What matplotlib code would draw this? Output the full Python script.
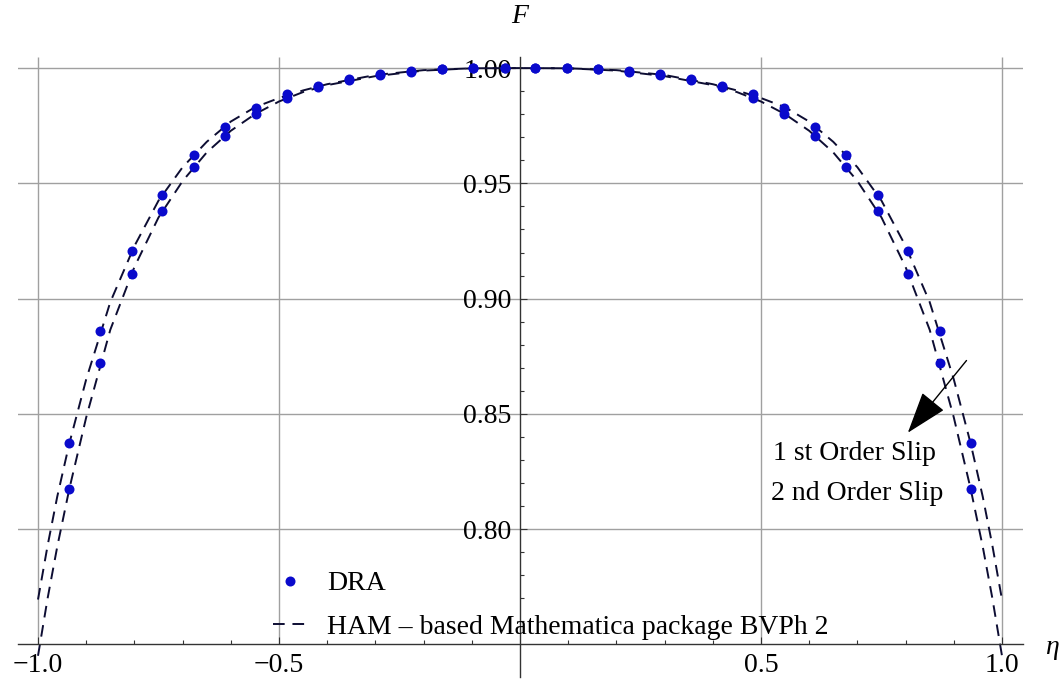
import numpy as np
import matplotlib.pyplot as plt
from matplotlib.lines import Line2D

plt.rcParams['font.family'] = ['Liberation Serif', 'DejaVu Serif']
plt.rcParams['mathtext.fontset'] = 'stix'

# DRA points (eta > 0 side, profile is symmetric)
eta_dra = [0.032, 0.097, 0.161, 0.226, 0.290, 0.355, 0.419, 0.484,
           0.548, 0.613, 0.677, 0.742, 0.806, 0.871, 0.935]
F_dra_slip1 = [1.0000, 0.9999, 0.9995, 0.9987, 0.9973, 0.9952, 0.9922, 0.9886,
               0.9826, 0.9744, 0.9622, 0.9450, 0.9206, 0.8858, 0.8372]
F_dra_slip2 = [1.0000, 0.9999, 0.9994, 0.9985, 0.9970, 0.9948, 0.9918, 0.9869,
               0.9802, 0.9706, 0.9573, 0.9381, 0.9107, 0.8722, 0.8175]

# HAM (BVPh 2) curves
eta_ham = [0.0, 0.1, 0.2, 0.3, 0.4, 0.45, 0.5, 0.55, 0.6, 0.65, 0.7,
           0.75, 0.8, 0.85, 0.9, 0.935, 0.96, 0.98, 1.0]
F_ham_slip1 = [1.0000, 0.9999, 0.9991, 0.9970, 0.9930, 0.9903, 0.9870, 0.9830,
               0.9768, 0.9680, 0.9570, 0.9425, 0.9228, 0.8985, 0.8650, 0.8372,
               0.8142, 0.7930, 0.7695]
F_ham_slip2 = [1.0000, 0.9999, 0.9989, 0.9965, 0.9926, 0.9896, 0.9855, 0.9800,
               0.9728, 0.9634, 0.9510, 0.9352, 0.9137, 0.8865, 0.8485, 0.8175,
               0.7925, 0.7701, 0.7451]

x_ticks = [-1.0, -0.5, 0.5, 1.0]
x_ticklabels = ['\u22121.0', '\u22120.5', '0.5', '1.0']
y_ticks = [0.80, 0.85, 0.90, 0.95, 1.00]
y_ticklabels = ['0.80', '0.85', '0.90', '0.95', '1.00']


def mirror(x, y):
    x = np.asarray(x)
    y = np.asarray(y)
    return np.concatenate([-x[::-1], x]), np.concatenate([y[::-1], y])


dot_color = '#0a0acc'
line_color = '#0d0d33'
dash = (0, (6, 4))

fig = plt.figure(figsize=(10.59, 6.86), dpi=100)
ax = fig.add_axes([18 / 1059, 9 / 686, 1005 / 1059, 620 / 686])
ax.set_xlim(-1.0415, 1.0436)
ax.set_ylim(0.7359, 1.0048)

# grid
for yv in y_ticks:
    ax.axhline(yv, color='#a0a0a0', lw=1, zorder=0)
ax.vlines(x_ticks, 0.75, ax.get_ylim()[1], color='#a0a0a0', lw=1, zorder=0)

# curves
for F in (F_ham_slip1, F_ham_slip2):
    xs, ys = mirror(eta_ham, F)
    ax.plot(xs, ys, color=line_color, lw=1.4, linestyle=dash, zorder=2)

# points
for F in (F_dra_slip1, F_dra_slip2):
    xs, ys = mirror(eta_dra, F)
    ax.plot(xs, ys, 'o', color=dot_color, ms=7.2, mew=0, zorder=3)

# axes through the origin, Mathematica style
for s in ('top', 'right'):
    ax.spines[s].set_visible(False)
ax.spines['left'].set_position(('data', 0))
ax.spines['bottom'].set_position(('data', 0.75))
for s in ('left', 'bottom'):
    ax.spines[s].set_color('#333333')
    ax.spines[s].set_linewidth(1)

ax.set_xticks(x_ticks)
ax.set_xticklabels(x_ticklabels)
ax.set_xticks([v / 10 for v in range(-9, 10) if v not in (-5, 0, 5)], minor=True)
ax.set_yticks(y_ticks)
ax.set_yticklabels(y_ticklabels)
ax.set_yticks([v / 100 for v in range(76, 100) if v % 5 != 0], minor=True)
ax.tick_params(which='both', direction='in', color='#333333', width=0.8,
               labelsize=20)
ax.tick_params(which='major', length=5, pad=6)
ax.tick_params(which='minor', length=3)

ax.annotate('F', xy=(0, 1), xycoords=('data', 'axes fraction'),
            xytext=(0, 29), textcoords='offset points',
            ha='center', va='center', fontsize=20, style='italic')
ax.annotate('\u03b7', xy=(1, 0.75), xycoords=('axes fraction', 'data'),
            xytext=(21, -2), textcoords='offset points',
            ha='center', va='center', fontsize=20, style='italic')

# slip annotation
ax.annotate('', xy=(0.801, 0.8409), xytext=(0.930, 0.8741),
            arrowprops=dict(arrowstyle='-|>,head_length=0.89,head_width=0.3',
                            mutation_scale=30, color='black', lw=1))
ax.text(0.695, 0.833, '1 st Order Slip', ha='center', va='center', fontsize=20)
ax.text(0.699, 0.8157, '2 nd Order Slip', ha='center', va='center', fontsize=20)

handles = [Line2D([], [], marker='o', color=dot_color, ls='none', ms=7.2, mew=0),
           Line2D([], [], color=line_color, lw=1.4, linestyle=dash)]
labels = ['DRA', 'HAM \u2013 based Mathematica package BVPh 2']
ax.legend(handles, labels, loc='upper left', bbox_to_anchor=(0.2537, 0.171),
          frameon=False, fontsize=20, handlelength=1.25, handletextpad=0.7,
          borderpad=0, borderaxespad=0, labelspacing=0.65)

fig.savefig('out.png', dpi=100)
